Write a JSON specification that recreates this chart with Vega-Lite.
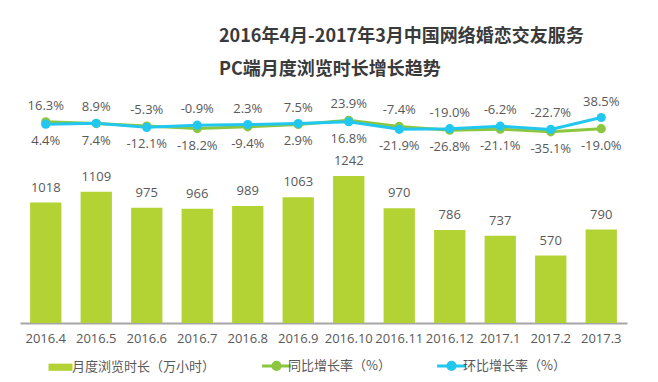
{
  "$schema": "https://vega.github.io/schema/vega-lite/v6.json",
  "width": 607,
  "height": 228,
  "autosize": {"type": "none"},
  "padding": {"left": 20, "top": 95, "right": 31, "bottom": 59},
  "background": "white",
  "config": {
    "view": {"stroke": null},
    "locale": {"number": {"decimal": ".", "thousands": ",", "grouping": [3], "currency": ["$", ""], "minus": "-"}},
    "text": {"font": "Open Sans"},
    "legend": {
      "title": null,
      "orient": "none",
      "direction": "horizontal",
      "legendX": 34,
      "legendY": 264,
      "padding": 0,
      "symbolSize": 576,
      "labelFont": "Noto Sans CJK SC",
      "labelFontSize": 13,
      "labelColor": "#595959",
      "labelOffset": 5,
      "columnPadding": 40,
      "labelLimit": 300
    }
  },
  "title": {
    "text": "2016年4月-2017年3月中国网络婚恋交友服务",
    "subtitle": "PC端月度浏览时长增长趋势",
    "anchor": "start",
    "frame": "group",
    "dx": 199,
    "offset": 16,
    "font": "Noto Sans CJK SC",
    "subtitleFont": "Noto Sans CJK SC",
    "fontSize": 18,
    "subtitleFontSize": 18,
    "fontWeight": "bold",
    "subtitleFontWeight": "bold",
    "color": "#3a3a3a",
    "subtitleColor": "#3a3a3a",
    "subtitlePadding": 15
  },
  "datasets": {
    "hours": [
      {"month": "2016.4", "hours": 1018},
      {"month": "2016.5", "hours": 1109},
      {"month": "2016.6", "hours": 975},
      {"month": "2016.7", "hours": 966},
      {"month": "2016.8", "hours": 989},
      {"month": "2016.9", "hours": 1063},
      {"month": "2016.10", "hours": 1242},
      {"month": "2016.11", "hours": 970},
      {"month": "2016.12", "hours": 786},
      {"month": "2017.1", "hours": 737},
      {"month": "2017.2", "hours": 570},
      {"month": "2017.3", "hours": 790}
    ],
    "rates": [
      {"month": "2016.4", "series": "同比增长率（%）", "rate": 0.163},
      {"month": "2016.5", "series": "同比增长率（%）", "rate": 0.074},
      {"month": "2016.6", "series": "同比增长率（%）", "rate": -0.053},
      {"month": "2016.7", "series": "同比增长率（%）", "rate": -0.182},
      {"month": "2016.8", "series": "同比增长率（%）", "rate": -0.094},
      {"month": "2016.9", "series": "同比增长率（%）", "rate": 0.029},
      {"month": "2016.10", "series": "同比增长率（%）", "rate": 0.239},
      {"month": "2016.11", "series": "同比增长率（%）", "rate": -0.074},
      {"month": "2016.12", "series": "同比增长率（%）", "rate": -0.268},
      {"month": "2017.1", "series": "同比增长率（%）", "rate": -0.211},
      {"month": "2017.2", "series": "同比增长率（%）", "rate": -0.351},
      {"month": "2017.3", "series": "同比增长率（%）", "rate": -0.190},
      {"month": "2016.4", "series": "环比增长率（%）", "rate": 0.044},
      {"month": "2016.5", "series": "环比增长率（%）", "rate": 0.089},
      {"month": "2016.6", "series": "环比增长率（%）", "rate": -0.121},
      {"month": "2016.7", "series": "环比增长率（%）", "rate": -0.009},
      {"month": "2016.8", "series": "环比增长率（%）", "rate": 0.023},
      {"month": "2016.9", "series": "环比增长率（%）", "rate": 0.075},
      {"month": "2016.10", "series": "环比增长率（%）", "rate": 0.168},
      {"month": "2016.11", "series": "环比增长率（%）", "rate": -0.219},
      {"month": "2016.12", "series": "环比增长率（%）", "rate": -0.190},
      {"month": "2017.1", "series": "环比增长率（%）", "rate": -0.062},
      {"month": "2017.2", "series": "环比增长率（%）", "rate": -0.227},
      {"month": "2017.3", "series": "环比增长率（%）", "rate": 0.385}
    ]
  },
  "encoding": {
    "x": {
      "field": "month",
      "type": "nominal",
      "sort": null,
      "scale": {"paddingInner": 0.38, "paddingOuter": 0.2},
      "axis": {
        "title": null,
        "ticks": false,
        "domainColor": "#a6a6a6",
        "domainWidth": 2,
        "labelAngle": 0,
        "labelFont": "Open Sans",
        "labelFontSize": 13,
        "labelColor": "#595959",
        "labelPadding": 9,
        "labelOverlap": false,
        "labelBound": false
      }
    }
  },
  "layer": [
    {
      "data": {"name": "hours"},
      "encoding": {
        "y": {"field": "hours", "type": "quantitative", "scale": {"domain": [0, 1927], "nice": false}, "axis": null}
      },
      "layer": [
        {
          "mark": {"type": "bar"},
          "encoding": {
            "color": {
              "datum": "月度浏览时长（万小时）",
              "type": "nominal",
              "scale": {
                "domain": ["月度浏览时长（万小时）", "同比增长率（%）", "环比增长率（%）"],
                "range": ["#b3d234", "#8cc63f", "#22c7f0"]
              },
              "legend": {
                "title": null,
                "encode": {
                  "symbols": {
                    "update": {
                      "shape": {"signal": "datum.value === '月度浏览时长（万小时）' ? 'M-1,-0.3H1V0.3H-1Z' : 'M-1.2,0H1.2M0.3,0A0.3,0.3 0 1,1 -0.3,0A0.3,0.3 0 1,1 0.3,0Z'"},
                      "fill": {"scale": "color", "field": "value"},
                      "stroke": {"scale": "color", "field": "value"},
                      "strokeWidth": {"signal": "datum.value === '月度浏览时长（万小时）' ? 0 : 3"},
                      "opacity": {"value": 1},
                      "fillOpacity": {"value": 1},
                      "strokeOpacity": {"value": 1}
                    }
                  }
                }
              }
            }
          }
        },
        {
          "mark": {"type": "text", "baseline": "alphabetic", "dy": -11, "fontSize": 13, "color": "#595959", "font": "Open Sans"},
          "encoding": {"text": {"field": "hours", "type": "quantitative"}}
        }
      ]
    },
    {
      "data": {"name": "rates"},
      "encoding": {
        "y": {"field": "rate", "type": "quantitative", "scale": {"domain": [-10.153, 1.539], "nice": false, "zero": false}, "axis": null}
      },
      "layer": [
        {
          "mark": {"type": "line", "strokeWidth": 3, "point": {"filled": true, "size": 85}},
          "encoding": {
            "color": {
              "field": "series",
              "type": "nominal",
              "legend": {
                "title": null,
                "encode": {
                  "symbols": {
                    "update": {
                      "shape": {"signal": "datum.value === '月度浏览时长（万小时）' ? 'M-1,-0.3H1V0.3H-1Z' : 'M-1.2,0H1.2M0.3,0A0.3,0.3 0 1,1 -0.3,0A0.3,0.3 0 1,1 0.3,0Z'"},
                      "fill": {"scale": "color", "field": "value"},
                      "stroke": {"scale": "color", "field": "value"},
                      "strokeWidth": {"signal": "datum.value === '月度浏览时长（万小时）' ? 0 : 3"},
                      "opacity": {"value": 1},
                      "fillOpacity": {"value": 1},
                      "strokeOpacity": {"value": 1}
                    }
                  }
                }
              }
            }
          }
        },
        {
          "transform": [
            {"joinaggregate": [{"op": "max", "field": "rate", "as": "vmax"}], "groupby": ["month"]},
            {"filter": "datum.rate === datum.vmax"}
          ],
          "mark": {"type": "text", "baseline": "middle", "dy": -16, "fontSize": 13, "color": "#595959", "font": "Open Sans"},
          "encoding": {"text": {"field": "rate", "type": "quantitative", "format": ".1%"}}
        },
        {
          "transform": [
            {"joinaggregate": [{"op": "max", "field": "rate", "as": "vmax"}], "groupby": ["month"]},
            {"filter": "datum.rate !== datum.vmax"}
          ],
          "mark": {"type": "text", "baseline": "middle", "dy": 17, "fontSize": 13, "color": "#595959", "font": "Open Sans"},
          "encoding": {"text": {"field": "rate", "type": "quantitative", "format": ".1%"}}
        }
      ]
    }
  ],
  "resolve": {"scale": {"y": "independent"}}
}
